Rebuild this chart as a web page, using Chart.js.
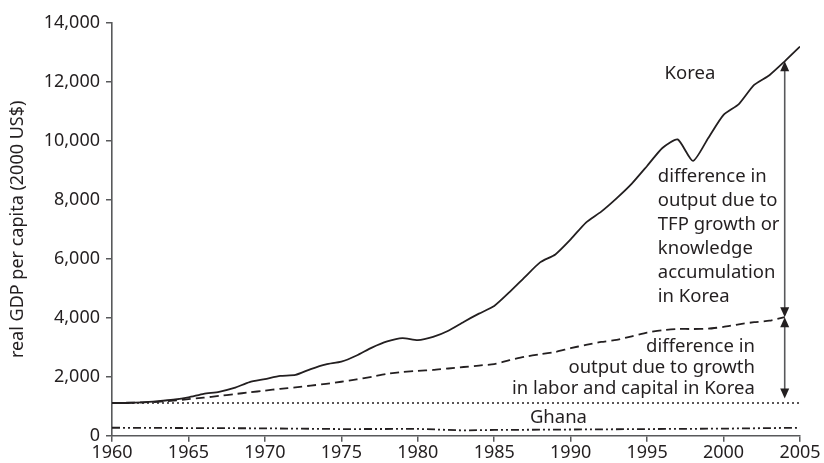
<!DOCTYPE html>
<html>
<head>
<meta charset="utf-8">
<script src="https://cdn.jsdelivr.net/npm/chart.js@4/dist/chart.umd.min.js"></script>
<style>
  html, body { margin: 0; padding: 0; background: #fff; }
  #wrap { width: 824px; height: 463px; }
</style>
</head>
<body>
<div id="wrap"><canvas id="myChart" width="824" height="463"></canvas></div>
<script>
// datos
const years = [1960,1961,1962,1963,1964,1965,1966,1967,1968,1969,1970,1971,1972,1973,1974,1975,1976,1977,1978,1979,
  1980,1981,1982,1983,1984,1985,1986,1987,1988,1989,1990,1991,1992,1993,1994,1995,1996,1997,1998,1999,2000,2001,2002,2003,2004,2005];
const korea = [1110,1110,1130,1170,1220,1300,1420,1490,1620,1820,1920,2030,2060,2260,2420,2510,2720,2990,3200,3310,
  3240,3350,3560,3860,4140,4400,4870,5380,5880,6150,6660,7230,7600,8050,8550,9150,9760,10050,9320,10100,10880,11250,11900,12230,12700,13200];
// crecimiento por trabajo y capital (termina en 2004)
const laborCapital = [1110,1120,1130,1150,1190,1240,1290,1350,1410,1470,1530,1590,1640,1700,1760,1830,1910,2000,2100,2160,
  2200,2230,2280,2330,2380,2430,2560,2680,2760,2840,2970,3080,3180,3250,3370,3500,3580,3620,3620,3630,3690,3780,3850,3900,4020];
const koreaStart = [1110, 1110];
const koreaStartYears = [1960, 2005];
const ghanaYears = [1960,1965,1970,1975,1980,1983,1985,1990,1995,2000,2005];
const ghana = [270,260,250,225,230,180,195,210,225,240,270];
const yTicks = [0,2000,4000,6000,8000,10000,12000,14000];
const xTicks = [1960,1965,1970,1975,1980,1985,1990,1995,2000,2005];
const arrowYear = 2004;
const arrowTop = 12700, arrowMid = 4020, arrowBottom = 1110;

const FONT = "'Noto Sans', 'Open Sans', sans-serif";
const TXT = '#231f20';
const AXIS = '#58595b';

const toPts = (xs, ys) => ys.map((v, i) => ({ x: xs[i], y: v }));

// anotaciones de texto y flechas
const annotations = {
  id: 'annotations',
  afterDatasetsDraw(chart) {
    const ctx = chart.ctx;
    const xs = chart.scales.x, ys = chart.scales.y;
    ctx.save();
    ctx.fillStyle = TXT;
    ctx.font = "18.5px " + FONT;
    ctx.textBaseline = 'middle';

    ctx.textAlign = 'center';
    ctx.fillText('Korea', xs.getPixelForValue(1997.8), ys.getPixelForValue(12280));
    ctx.fillText('Ghana', xs.getPixelForValue(1989.2), ys.getPixelForValue(600));

    ctx.textAlign = 'left';
    const upper = ['difference in', 'output due to', 'TFP growth or', 'knowledge', 'accumulation', 'in Korea'];
    let x0 = xs.getPixelForValue(1995.7), y0 = ys.getPixelForValue(8781);
    upper.forEach((t, i) => ctx.fillText(t, x0, y0 + i * 24));

    ctx.textAlign = 'right';
    const lower = ['difference in', 'output due to growth', 'in labor and capital in Korea'];
    x0 = xs.getPixelForValue(2002.05); y0 = ys.getPixelForValue(3021);
    lower.forEach((t, i) => ctx.fillText(t, x0, y0 + i * 21.2));

    // flechas
    const ax = xs.getPixelForValue(arrowYear);
    const drawArrow = (v1, v2) => {
      const a = ys.getPixelForValue(v1), b = ys.getPixelForValue(v2);
      ctx.strokeStyle = AXIS;
      ctx.lineWidth = 1.6;
      ctx.beginPath();
      ctx.moveTo(ax, a + 8);
      ctx.lineTo(ax, b - 8);
      ctx.stroke();
      ctx.fillStyle = TXT;
      ctx.beginPath();
      ctx.moveTo(ax, a); ctx.lineTo(ax - 4.5, a + 10); ctx.lineTo(ax + 4.5, a + 10); ctx.closePath();
      ctx.fill();
      ctx.beginPath();
      ctx.moveTo(ax, b); ctx.lineTo(ax - 4.5, b - 10); ctx.lineTo(ax + 4.5, b - 10); ctx.closePath();
      ctx.fill();
    };
    drawArrow(arrowTop, arrowMid);
    drawArrow(arrowMid, arrowBottom + 150);
    ctx.restore();
  }
};

const myChart = document.getElementById('myChart').getContext('2d');
const grafica = new Chart(myChart, {
  type: 'line',
  data: {
    datasets: [
      { data: toPts(years, korea), borderColor: TXT, borderWidth: 1.8, pointRadius: 0, tension: 0.2 },
      { data: toPts(years, laborCapital), borderColor: TXT, borderWidth: 1.8, borderDash: [9, 5], pointRadius: 0, tension: 0.2 },
      { data: toPts(koreaStartYears, koreaStart), borderColor: TXT, borderWidth: 1.6, borderDash: [2, 3], pointRadius: 0 },
      { data: toPts(ghanaYears, ghana), borderColor: TXT, borderWidth: 1.8, borderDash: [8, 3, 2, 3, 2, 3], pointRadius: 0 }
    ]
  },
  options: {
    responsive: false,
    animation: false,
    layout: { padding: { top: 23, right: 24, left: 0, bottom: 0 } },
    plugins: { legend: { display: false }, tooltip: { enabled: false } },
    scales: {
      x: {
        type: 'linear', min: 1960, max: 2005,
        afterBuildTicks: (s) => { s.ticks = xTicks.map(v => ({ value: v })); },
        afterFit: (s) => { s.height = 27.3; },
        grid: { drawOnChartArea: false, drawTicks: true, tickLength: 6, color: AXIS, lineWidth: 1.5 },
        border: { color: AXIS, width: 1.6 },
        ticks: { color: TXT, font: { family: FONT, size: 18 }, padding: 0, maxRotation: 0, callback: (v) => String(v) }
      },
      y: {
        min: 0, max: 14000,
        afterBuildTicks: (s) => { s.ticks = yTicks.map(v => ({ value: v })); },
        afterFit: (s) => { s.width = 112; },
        grid: { drawOnChartArea: false, drawTicks: true, tickLength: 6, color: AXIS, lineWidth: 1.5 },
        border: { color: AXIS, width: 1.6 },
        ticks: { color: TXT, font: { family: FONT, size: 18 }, padding: 6, callback: (v) => v.toLocaleString('en-US') },
        title: { display: true, text: 'real GDP per capita (2000 US$)', color: TXT, font: { family: FONT, size: 18 }, padding: { top: 7, bottom: 0 } }
      }
    }
  },
  plugins: [annotations]
});
</script>
</body>
</html>
